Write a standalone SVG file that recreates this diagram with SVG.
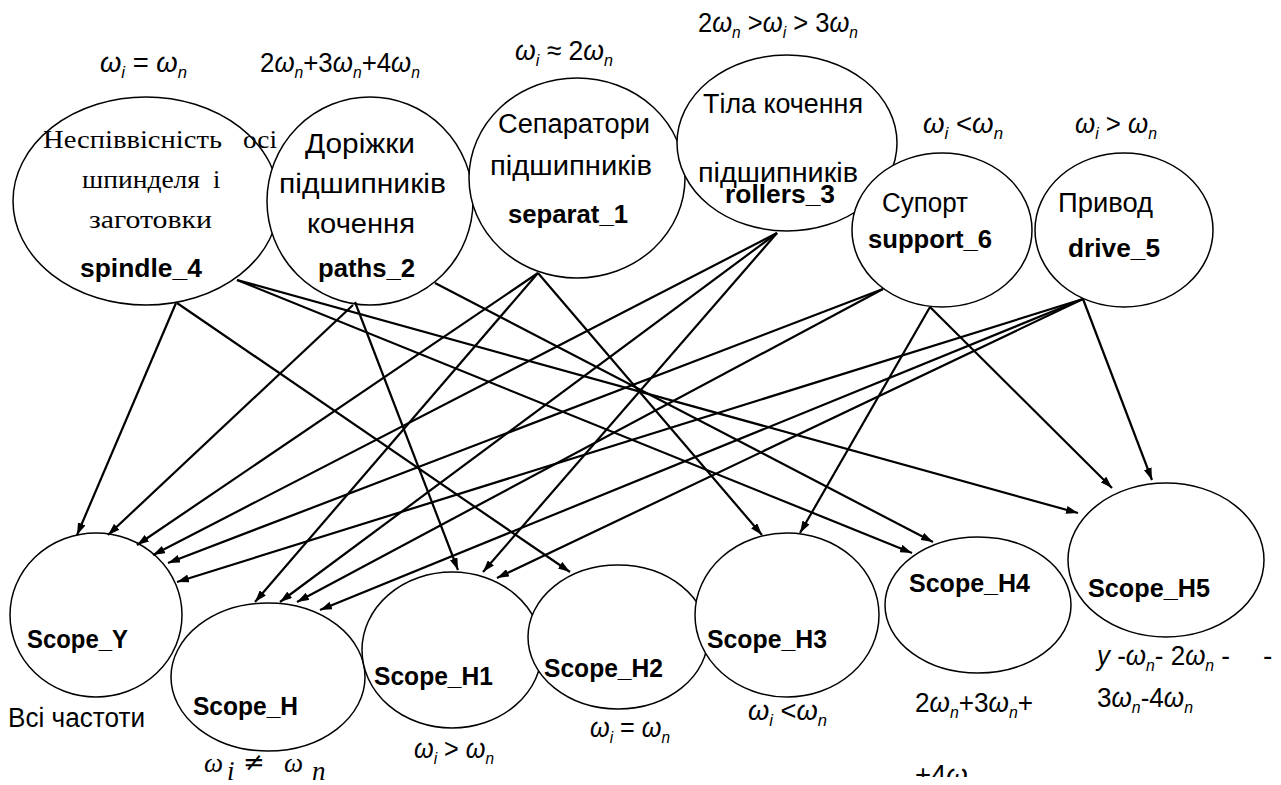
<svg xmlns="http://www.w3.org/2000/svg" width="1281" height="785" viewBox="0 0 1281 785">
<style>
.e{fill:#fff;stroke:#000;stroke-width:1.5}
.t{font-family:"Liberation Sans",Arial,sans-serif;font-size:27px;fill:#000}
.b{font-family:"Liberation Sans",Arial,sans-serif;font-weight:bold;font-size:25px;fill:#000}
.tm{font-family:"Liberation Serif","Times New Roman",serif;font-size:26px;fill:#000}
.om{font-family:"Liberation Sans",Arial,sans-serif;font-size:28px;fill:#000}
.w{font-style:italic}
.s{font-size:17px;font-style:italic}
.tmi{font-family:"Liberation Serif","Times New Roman",serif;font-size:27px;font-style:italic;fill:#000}
.ne{font-family:"DejaVu Sans",sans-serif;font-size:26px;fill:#000}
.edge{stroke:#000;stroke-width:2.2;fill:none;marker-end:url(#ah)}
</style>
<defs>
<marker id="ah" viewBox="0 0 12 8" refX="12" refY="4" markerWidth="12" markerHeight="8" markerUnits="userSpaceOnUse" orient="auto"><path d="M0,0 L12,4 L0,8 z" fill="#000"/></marker>
<clipPath id="clipb"><rect x="0" y="0" width="1281" height="777"/></clipPath>
</defs>
<rect width="1281" height="785" fill="#fff"/>

<g id="spindle_4">
<ellipse class="e" cx="146" cy="201" rx="133" ry="104"/>
</g>
<g id="paths_2">
<ellipse class="e" cx="370" cy="201" rx="103" ry="104"/>
<text class="t" x="305" y="153" textLength="110" lengthAdjust="spacingAndGlyphs">Доріжки</text>
<text class="t" x="279" y="193" textLength="167" lengthAdjust="spacingAndGlyphs">підшипників</text>
<text class="t" x="307" y="233" textLength="108" lengthAdjust="spacingAndGlyphs">кочення</text>
<text class="b" x="318" y="277" textLength="97" lengthAdjust="spacingAndGlyphs">paths_2</text>
</g>
<g id="spindle_4_text">
<text class="tm" x="43" y="148" textLength="179" lengthAdjust="spacingAndGlyphs">Неспіввісність</text>
<text class="tm" x="243" y="148" textLength="34" lengthAdjust="spacingAndGlyphs">осі</text>
<text class="tm" x="82" y="188" textLength="118" lengthAdjust="spacingAndGlyphs">шпинделя</text>
<text class="tm" x="213" y="188">і</text>
<text class="tm" x="89" y="228" textLength="123" lengthAdjust="spacingAndGlyphs">заготовки</text>
<text class="b" x="80" y="277" textLength="122" lengthAdjust="spacingAndGlyphs">spindle_4</text>
</g>
<g id="separat_1">
<ellipse class="e" cx="577" cy="178" rx="108" ry="100"/>
<text class="t" x="498" y="133" textLength="152" lengthAdjust="spacingAndGlyphs">Сепаратори</text>
<text class="t" x="490" y="175" textLength="162" lengthAdjust="spacingAndGlyphs">підшипників</text>
<text class="b" x="508" y="223" textLength="120" lengthAdjust="spacingAndGlyphs">separat_1</text>
</g>
<g id="rollers_3">
<ellipse class="e" cx="787" cy="143" rx="110" ry="88"/>
<text class="t" x="703" y="113" textLength="160" lengthAdjust="spacingAndGlyphs">Тіла кочення</text>
<text class="t" x="698" y="182" textLength="160" lengthAdjust="spacingAndGlyphs">підшипників</text>
<text class="b" x="725" y="203" textLength="110" lengthAdjust="spacingAndGlyphs">rollers_3</text>
</g>
<g id="support_6">
<ellipse class="e" cx="942" cy="230" rx="90" ry="77"/>
<text class="t" x="882" y="212" textLength="86" lengthAdjust="spacingAndGlyphs">Супорт</text>
<text class="b" x="868" y="248" textLength="124" lengthAdjust="spacingAndGlyphs">support_6</text>
</g>
<g id="drive_5">
<ellipse class="e" cx="1124" cy="230" rx="89" ry="77"/>
<text class="t" x="1058" y="212" textLength="95" lengthAdjust="spacingAndGlyphs">Привод</text>
<text class="b" x="1068" y="257" textLength="92" lengthAdjust="spacingAndGlyphs">drive_5</text>
</g>

<g id="Scope_Y">
<ellipse class="e" cx="96" cy="615" rx="86" ry="82"/>
<text class="b" x="27" y="648" textLength="101" lengthAdjust="spacingAndGlyphs">Scope_Y</text>
</g>
<g id="Scope_H">
<ellipse class="e" cx="268" cy="677" rx="97" ry="74"/>
<text class="b" x="193" y="715" textLength="105" lengthAdjust="spacingAndGlyphs">Scope_H</text>
</g>
<g id="Scope_H1">
<ellipse class="e" cx="452" cy="650" rx="90" ry="78"/>
<text class="b" x="374" y="685" textLength="119" lengthAdjust="spacingAndGlyphs">Scope_H1</text>
</g>
<g id="Scope_H2">
<ellipse class="e" cx="618" cy="637" rx="90" ry="72"/>
<text class="b" x="544" y="677" textLength="119" lengthAdjust="spacingAndGlyphs">Scope_H2</text>
</g>
<g id="Scope_H3">
<ellipse class="e" cx="787" cy="615" rx="92" ry="82"/>
<text class="b" x="707" y="648" textLength="120" lengthAdjust="spacingAndGlyphs">Scope_H3</text>
</g>
<g id="Scope_H4">
<ellipse class="e" cx="978" cy="605" rx="93" ry="68"/>
<text class="b" x="909" y="592" textLength="121" lengthAdjust="spacingAndGlyphs">Scope_H4</text>
</g>
<g id="Scope_H5">
<ellipse class="e" cx="1166" cy="560" rx="98" ry="77"/>
<text class="b" x="1088" y="597" textLength="122" lengthAdjust="spacingAndGlyphs">Scope_H5</text>
</g>

<g id="labels">
<text class="om" x="100" y="72" textLength="87" lengthAdjust="spacingAndGlyphs"><tspan class="w">ω</tspan><tspan class="s" dy="6">i</tspan><tspan dy="-6"> = </tspan><tspan class="w">ω</tspan><tspan class="s" dy="6">n</tspan></text>
<text class="om" x="260" y="72" textLength="160" lengthAdjust="spacingAndGlyphs">2<tspan class="w">ω</tspan><tspan class="s" dy="6">n</tspan><tspan dy="-6">+3</tspan><tspan class="w">ω</tspan><tspan class="s" dy="6">n</tspan><tspan dy="-6">+4</tspan><tspan class="w">ω</tspan><tspan class="s" dy="6">n</tspan></text>
<text class="om" x="515" y="60" textLength="98" lengthAdjust="spacingAndGlyphs"><tspan class="w">ω</tspan><tspan class="s" dy="6">i</tspan><tspan dy="-6"> ≈ 2</tspan><tspan class="w">ω</tspan><tspan class="s" dy="6">n</tspan></text>
<text class="om" x="698" y="32" textLength="160" lengthAdjust="spacingAndGlyphs">2<tspan class="w">ω</tspan><tspan class="s" dy="6">n</tspan><tspan dy="-6"> &gt;</tspan><tspan class="w">ω</tspan><tspan class="s" dy="6">i</tspan><tspan dy="-6"> &gt; 3</tspan><tspan class="w">ω</tspan><tspan class="s" dy="6">n</tspan></text>
<text class="om" x="923" y="133" textLength="80" lengthAdjust="spacingAndGlyphs"><tspan class="w">ω</tspan><tspan class="s" dy="6">i</tspan><tspan dy="-6"> &lt;</tspan><tspan class="w">ω</tspan><tspan class="s" dy="6">n</tspan></text>
<text class="om" x="1075" y="133" textLength="82" lengthAdjust="spacingAndGlyphs"><tspan class="w">ω</tspan><tspan class="s" dy="6">i</tspan><tspan dy="-6"> &gt; </tspan><tspan class="w">ω</tspan><tspan class="s" dy="6">n</tspan></text>

<text class="t" x="8" y="727" textLength="137" lengthAdjust="spacingAndGlyphs">Всі частоти</text>
<text class="tmi" x="204" y="772">ω</text>
<text class="tmi" x="227" y="780" font-size="15">i</text>
<text class="ne" x="243" y="771">≠</text>
<text class="tmi" x="284" y="772">ω</text>
<text class="tmi" x="312" y="780" font-size="15">n</text>
<text class="om" x="414" y="758" textLength="80" lengthAdjust="spacingAndGlyphs"><tspan class="w">ω</tspan><tspan class="s" dy="6">i</tspan><tspan dy="-6"> &gt; </tspan><tspan class="w">ω</tspan><tspan class="s" dy="6">n</tspan></text>
<text class="om" x="590" y="737" textLength="80" lengthAdjust="spacingAndGlyphs"><tspan class="w">ω</tspan><tspan class="s" dy="6">i</tspan><tspan dy="-6"> = </tspan><tspan class="w">ω</tspan><tspan class="s" dy="6">n</tspan></text>
<text class="om" x="748" y="720" textLength="79" lengthAdjust="spacingAndGlyphs"><tspan class="w">ω</tspan><tspan class="s" dy="6">i</tspan><tspan dy="-6"> &lt;</tspan><tspan class="w">ω</tspan><tspan class="s" dy="6">n</tspan></text>
<text class="om" x="915" y="712" textLength="118" lengthAdjust="spacingAndGlyphs">2<tspan class="w">ω</tspan><tspan class="s" dy="6">n</tspan><tspan dy="-6">+3</tspan><tspan class="w">ω</tspan><tspan class="s" dy="6">n</tspan><tspan dy="-6">+</tspan></text>
<g clip-path="url(#clipb)"><text class="om" x="915" y="784" textLength="62" lengthAdjust="spacingAndGlyphs">+4<tspan class="w">ω</tspan><tspan class="s" dy="6">n</tspan></text></g>
<text class="om" x="1097" y="665" textLength="133" lengthAdjust="spacingAndGlyphs"><tspan class="w">y</tspan> -<tspan class="w">ω</tspan><tspan class="s" dy="6">n</tspan><tspan dy="-6">- 2</tspan><tspan class="w">ω</tspan><tspan class="s" dy="6">n</tspan><tspan dy="-6"> -</tspan></text>
<text class="om" x="1263" y="665">-</text>
<text class="om" x="1097" y="707" textLength="96" lengthAdjust="spacingAndGlyphs">3<tspan class="w">ω</tspan><tspan class="s" dy="6">n</tspan><tspan dy="-6">-4</tspan><tspan class="w">ω</tspan><tspan class="s" dy="6">n</tspan></text>
</g>

<g id="connectors">
<line class="edge" x1="176" y1="303" x2="77" y2="535"/>
<line class="edge" x1="177" y1="303" x2="570" y2="572"/>
<line class="edge" x1="237" y1="280" x2="912" y2="553"/>
<line class="edge" x1="237" y1="280" x2="1078" y2="513"/>
<line class="edge" x1="355" y1="302" x2="458" y2="570"/>
<line class="edge" x1="353" y1="305" x2="108" y2="535"/>
<line class="edge" x1="435" y1="283" x2="933" y2="542"/>
<line class="edge" x1="538" y1="273" x2="137" y2="545"/>
<line class="edge" x1="538" y1="273" x2="255" y2="602"/>
<line class="edge" x1="538" y1="273" x2="762" y2="535"/>
<line class="edge" x1="777" y1="233" x2="153" y2="555"/>
<line class="edge" x1="777" y1="233" x2="280" y2="602"/>
<line class="edge" x1="777" y1="233" x2="483" y2="572"/>
<line class="edge" x1="883" y1="289" x2="168" y2="563"/>
<line class="edge" x1="883" y1="289" x2="297" y2="602"/>
<line class="edge" x1="930" y1="307" x2="800" y2="533"/>
<line class="edge" x1="930" y1="307" x2="1112" y2="488"/>
<line class="edge" x1="1083" y1="299" x2="177" y2="582"/>
<line class="edge" x1="1083" y1="299" x2="320" y2="610"/>
<line class="edge" x1="1083" y1="299" x2="497" y2="578"/>
<line class="edge" x1="1083" y1="299" x2="1152" y2="480"/>
</g>
</svg>
